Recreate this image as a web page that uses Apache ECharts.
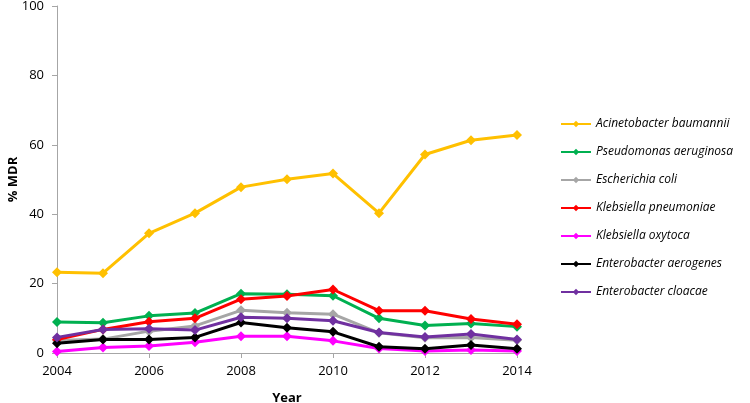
<!DOCTYPE html>
<html>
<head>
<meta charset="utf-8">
<script src="https://cdn.jsdelivr.net/npm/echarts@6/dist/echarts.min.js"></script>
<style>html,body{margin:0;padding:0;background:#fff}#c{width:750px;height:403px}</style>
</head>
<body>
<div id="c"></div>
<script>
const years = [2004, 2005, 2006, 2007, 2008, 2009, 2010, 2011, 2012, 2013, 2014];
const acinetobacter = [23.3, 23.0, 34.5, 40.3, 47.8, 50.1, 51.7, 40.3, 57.2, 61.3, 62.8];
const pseudomonas = [8.9, 8.7, 10.7, 11.5, 17.1, 16.9, 16.5, 10.0, 7.9, 8.5, 7.6];
const escherichia = [3.6, 4.0, 6.3, 7.8, 12.3, 11.6, 11.2, 5.8, 4.4, 4.5, 3.7];
const kPneumoniae = [3.9, 6.8, 9.0, 10.0, 15.5, 16.4, 18.3, 12.2, 12.2, 9.8, 8.3];
const kOxytoca = [0.4, 1.6, 2.0, 3.1, 4.8, 4.8, 3.5, 1.3, 0.6, 0.9, 0.6];
const eAerogenes = [2.8, 3.9, 3.9, 4.5, 8.8, 7.3, 6.1, 1.8, 1.2, 2.3, 1.2];
const eCloacae = [4.5, 6.8, 7.0, 6.6, 10.3, 10.0, 9.3, 5.9, 4.6, 5.5, 3.9];
const seriesNames = ['Acinetobacter baumannii', 'Pseudomonas aeruginosa', 'Escherichia coli', 'Klebsiella pneumoniae', 'Klebsiella oxytoca', 'Enterobacter aerogenes', 'Enterobacter cloacae'];
const seriesData = [acinetobacter, pseudomonas, escherichia, kPneumoniae, kOxytoca, eAerogenes, eCloacae];
const colors = ['#FFC000', '#00B050', '#A6A6A6', '#FF0000', '#FF00FF', '#000000', '#7030A0'];
const yTicks = [0, 20, 40, 60, 80, 100];
const xTicks = [2004, 2006, 2008, 2010, 2012, 2014];

const chart = echarts.init(document.getElementById('c'));
const font = '"Open Sans", "Liberation Sans", sans-serif';
chart.setOption({
  animation: false,
  textStyle: { fontFamily: font },
  grid: { left: 57, right: 233, top: 6, bottom: 50, containLabel: false, outerBoundsMode: 'none' },
  legend: {
    orient: 'vertical', left: 555, top: 111,
    itemWidth: 30, itemHeight: 8, itemGap: 12,
    data: seriesNames,
    textStyle: { fontStyle: 'italic', fontSize: 12, lineHeight: 16, color: '#000', fontFamily: font }
  },
  xAxis: {
    type: 'value', min: xTicks[0], max: xTicks[xTicks.length - 1], interval: 2,
    name: 'Year', nameLocation: 'middle', nameGap: 39,
    nameTextStyle: { fontWeight: 'bold', fontSize: 13, color: '#000' },
    axisLine: { lineStyle: { color: '#A6A6A6', width: 1 } },
    axisTick: { show: true, length: 5, lineStyle: { color: '#A6A6A6' } },
    axisLabel: { color: '#000', fontSize: 13, margin: 12, formatter: v => String(v) },
    splitLine: { show: false }
  },
  yAxis: {
    type: 'value', min: yTicks[0], max: yTicks[yTicks.length - 1], interval: 20,
    name: '% MDR', nameLocation: 'middle', nameGap: 37, nameRotate: 90, nameMoveOverlap: false,
    nameTextStyle: { fontWeight: 'bold', fontSize: 13, color: '#000' },
    axisLine: { show: true, lineStyle: { color: '#A6A6A6', width: 1 } },
    axisTick: { show: true, length: 5, lineStyle: { color: '#A6A6A6' } },
    axisLabel: { color: '#000', fontSize: 13, margin: 13 },
    splitLine: { show: false }
  },
  series: seriesNames.map((n, i) => ({
    name: n, type: 'line',
    data: years.map((y, j) => [y, seriesData[i][j]]),
    symbol: 'diamond', symbolSize: 10,
    lineStyle: { color: colors[i], width: 3 },
    itemStyle: { color: colors[i] },
    z: 2 + i
  }))
});
</script>
</body>
</html>
